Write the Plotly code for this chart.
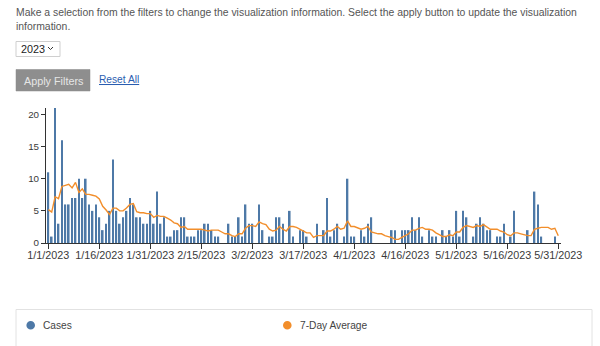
import pandas as pd
import plotly.graph_objects as go

# ---- data ----
cases_jan = [11, 1, 21, 3, 16, 6, 6, 7, 7, 10, 7, 10, 6, 5, 6, 4, 2, 3, 5, 13,
             5, 3, 4, 5, 7, 6, 4, 4, 3, 3, 5]
cases_feb = [3, 8, 3, 4, 1, 1, 2, 2, 4, 4, 1, 1, 1, 2, 2, 3, 3, 2, 1, 1,
             0, 0, 3, 1, 1, 4, 1, 6]
cases_mar = [3, 3, 0, 6, 2, 0, 1, 1, 4, 4, 3, 0, 5, 1, 0, 2, 2, 1, 0, 0,
             3, 0, 2, 7, 1, 2, 3, 0, 1, 10, 1]
cases_apr = [1, 0, 2, 1, 3, 4, 0, 0, 0, 0, 0, 2, 2, 0, 2, 2, 2, 4, 2, 4,
             1, 0, 2, 1, 1, 0, 2, 1, 2, 1]
cases_may = [5, 1, 5, 4, 0, 1, 3, 4, 3, 2, 2, 0, 1, 1, 3, 0, 1, 5, 0, 0,
             0, 2, 0, 8, 6, 1, 0, 0, 0, 1, 0]

avg_jan = [5.2, 4.8, 7.2, 6.9, 8.8, 9.0, 9.14, 8.57, 9.43, 7.86, 8.43, 7.57, 7.57,
           7.43, 7.29, 6.86, 5.71, 5.14, 4.43, 5.43, 5.43, 5.0, 5.0, 5.43, 6.0,
           6.14, 4.86, 4.71, 4.71, 4.57, 4.57]
avg_feb = [4.0, 4.29, 4.14, 4.14, 3.86, 3.57, 3.14, 3.0, 2.43, 2.57, 2.14, 2.14,
           2.14, 2.14, 2.14, 2.0, 1.86, 2.0, 2.0, 2.0, 1.71, 1.43, 1.43, 1.14,
           1.0, 1.43, 1.43, 2.29]
avg_mar = [2.71, 2.71, 2.57, 3.29, 3.0, 2.86, 2.14, 1.86, 2.0, 2.57, 2.14, 1.86,
           2.57, 2.57, 2.43, 2.14, 1.86, 1.57, 1.57, 0.86, 1.14, 1.14, 1.14,
           1.86, 1.86, 2.14, 2.57, 2.14, 2.29, 3.43, 2.57]
avg_apr = [2.57, 2.29, 2.14, 2.29, 2.57, 1.71, 1.57, 1.43, 1.43, 1.14, 1.0, 0.86,
           0.57, 0.57, 0.86, 1.14, 1.43, 2.0, 2.0, 2.29, 2.43, 2.14, 2.14, 2.0,
           1.57, 1.29, 1.0, 1.0, 1.29, 1.14]
avg_may = [1.71, 1.71, 2.43, 2.71, 2.57, 2.43, 2.71, 2.57, 2.86, 2.43, 2.14, 2.14,
           2.14, 1.86, 1.71, 1.29, 1.14, 1.57, 1.57, 1.43, 1.29, 1.14, 1.14,
           2.14, 2.29, 2.43, 2.43, 2.43, 2.14, 2.29, 1.14]

first_day = "2023-01-01"
last_day = "2023-05-31"
y_ticks = [0, 5, 10, 15, 20]
legend_labels = ["Cases", "7-Day Average"]
intro_line1 = ("Make a selection from the filters to change the visualization information. "
               "Select the apply button to update the visualization")
intro_line2 = "information."
year_choice = "2023"
apply_label = "Apply Filters"
reset_label = "Reset All"

BLUE = "#4e79a7"
ORANGE = "#f28e2b"
FONT = "Liberation Sans, Arial, sans-serif"

dates = pd.date_range(first_day, last_day, freq="D")
cases = cases_jan + cases_feb + cases_mar + cases_apr + cases_may
avg = avg_jan + avg_feb + avg_mar + avg_apr + avg_may

# ---- geometry helpers (page pixels -> paper coords) ----
FW, FH = 600, 346
L, R, T, B = 46, 39, 108, 103
PW, PH = FW - L - R, FH - T - B


def px(x):
    return (x - L) / PW


def py(y):
    return (FH - B - y) / PH


fig = go.Figure()
fig.add_trace(go.Bar(x=dates, y=cases, name=legend_labels[0],
                     marker=dict(color=BLUE, line=dict(width=0)),
                     showlegend=False))
fig.add_trace(go.Scatter(x=dates, y=avg, name=legend_labels[1], mode="lines",
                         line=dict(color=ORANGE, width=1.4),
                         showlegend=False))

shapes = []
annotations = []

# intro text
annotations.append(dict(text=intro_line1, x=px(14), y=py(12.5), xanchor="left",
                        yanchor="middle", font=dict(family=FONT, size=10.4, color="#555")))
annotations.append(dict(text=intro_line2, x=px(14), y=py(27), xanchor="left",
                        yanchor="middle", font=dict(family=FONT, size=10.4, color="#555")))

# dropdown
shapes.append(dict(type="rect", x0=px(16), x1=px(60), y0=py(41.5), y1=py(56.5),
                   line=dict(color="#cfcfcf", width=1), fillcolor="white"))
annotations.append(dict(text=year_choice, x=px(18.5), y=py(49), xanchor="left",
                        yanchor="middle", font=dict(family=FONT, size=10.8, color="#222")))
shapes.append(dict(type="path",
                   path=f"M {px(48)},{py(47)} L {px(50.5)},{py(49.5)} L {px(53)},{py(47)}",
                   line=dict(color="#333", width=1)))

# apply button
shapes.append(dict(type="rect", x0=px(16), x1=px(90), y0=py(69.5), y1=py(91),
                   line=dict(color="#888", width=0.5), fillcolor="#8e8e8e"))
annotations.append(dict(text=apply_label, x=px(53.5), y=py(80.5), xanchor="center",
                        yanchor="middle", font=dict(family=FONT, size=10.8, color="#e6e6e6")))
annotations.append(dict(text=f"<u>{reset_label}</u>", x=px(96.5), y=py(80), xanchor="left",
                        yanchor="middle", font=dict(family=FONT, size=10.2, color="#2a5db0")))

# legend box
shapes.append(dict(type="rect", x0=px(16), x1=px(592), y0=py(360), y1=py(309.5),
                   line=dict(color="#e2e2e2", width=1), fillcolor="rgba(0,0,0,0)"))
r = 4.3
for cx, col, lab, tx in [(30.7, BLUE, legend_labels[0], 40.5),
                         (287.3, ORANGE, legend_labels[1], 297.5)]:
    shapes.append(dict(type="circle", x0=px(cx - r), x1=px(cx + r),
                       y0=py(325.3 + r), y1=py(325.3 - r),
                       line=dict(width=0), fillcolor=col))
    annotations.append(dict(text=lab, x=px(tx), y=py(325.3), xanchor="left",
                            yanchor="middle", font=dict(family=FONT, size=10.2, color="#444")))

for a in annotations:
    a.update(xref="paper", yref="paper", showarrow=False)
for s in shapes:
    s.update(xref="paper", yref="paper", layer="above")

x_start = pd.Timestamp(first_day) - pd.Timedelta(hours=16.3)
x_end = pd.Timestamp(last_day) + pd.Timedelta(hours=19.2)

fig.update_layout(
    width=FW, height=FH,
    margin=dict(l=L, r=R, t=T, b=B, pad=0),
    paper_bgcolor="white", plot_bgcolor="white",
    bargap=0.5,
    font=dict(family=FONT, color="#333"),
    shapes=shapes, annotations=annotations,
    showlegend=False,
    xaxis=dict(type="date", range=[x_start, x_end], tick0=first_day,
               dtick=15 * 86400000, tickformat="%-m/%-d/%Y",
               ticks="outside", ticklen=5, tickcolor="#333", tickwidth=1,
               ticklabelstandoff=-3,
               showline=True, linecolor="#333", linewidth=1,
               showgrid=False, zeroline=False,
               tickfont=dict(family=FONT, size=10.8, color="#3a3a3a")),
    yaxis=dict(range=[0, 21], tickvals=y_ticks, ticks="outside", ticklen=4,
               tickcolor="#333", showline=True, linecolor="#333", linewidth=1,
               showgrid=False, zeroline=False,
               tickfont=dict(family=FONT, size=9.8, color="#3a3a3a")),
)

fig.write_html("out.html", config={"displayModeBar": False})
